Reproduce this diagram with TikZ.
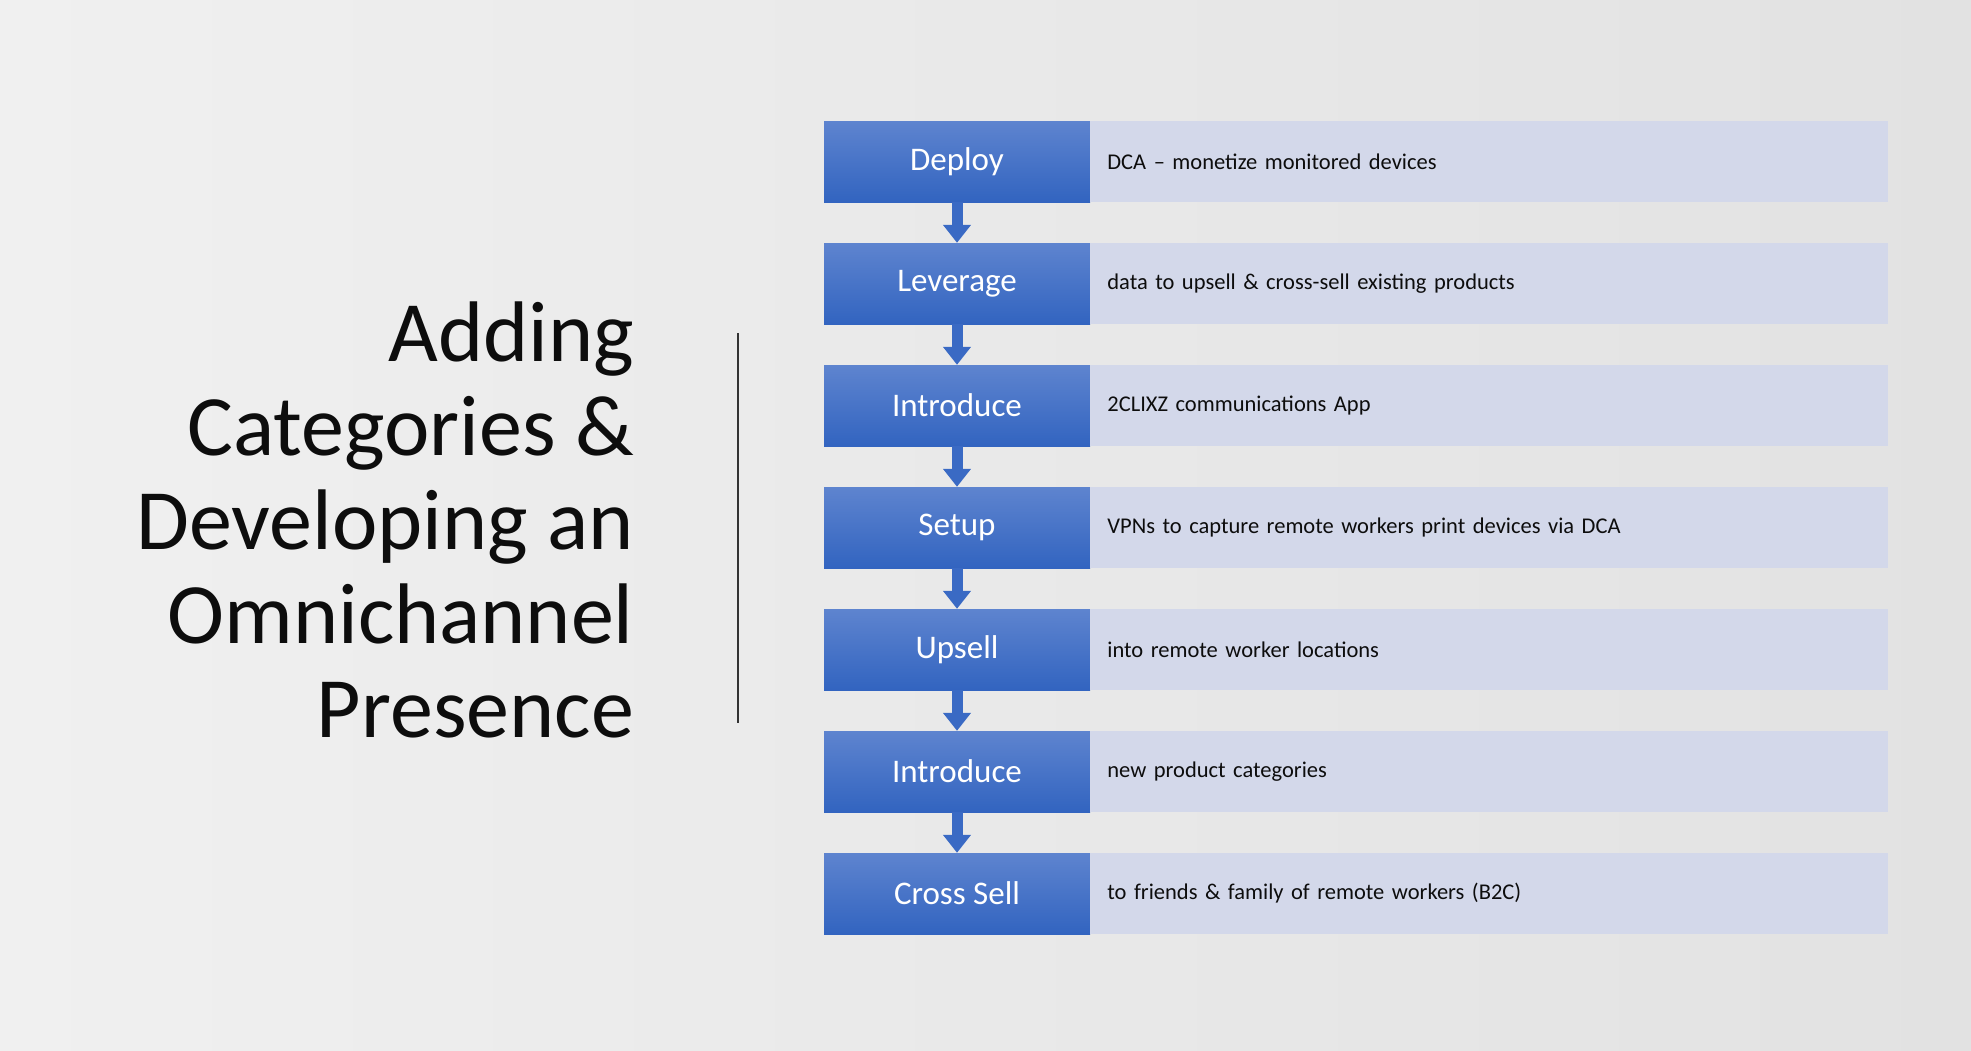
\documentclass[tikz,border=0pt]{standalone}
\usepackage{fontspec}
\setmainfont{Carlito}
\usepackage{xcolor}
\usetikzlibrary{arrows.meta}

\definecolor{bgLeft}{RGB}{240,240,240}
\definecolor{bgRight}{RGB}{226,226,226}
\definecolor{stepTop}{RGB}{94,132,207}
\definecolor{stepBottom}{RGB}{50,100,192}
\definecolor{flowBlue}{RGB}{58,106,196}
\definecolor{descFill}{RGB}{211,216,234}
\definecolor{inkDark}{RGB}{13,13,13}

\begin{document}
\begin{tikzpicture}[x=1pt, y=-1pt,
	stepbox/.style={rectangle, inner sep=0pt, minimum width=266pt, minimum height=81pt,
		top color=stepTop, bottom color=stepBottom, text=white,
		font=\fontsize{33}{40}\selectfont},
	descbox/.style={rectangle, fill=descFill, inner xsep=17pt, inner ysep=0pt,
		text width=764pt, minimum height=81pt, align=left, text=inkDark,
		font=\fontsize{22.5}{27}\selectfont},
	flow/.style={draw=flowBlue, line width=11pt, -{Triangle[width=27pt, length=18pt]}},
	heading/.style={inner sep=0pt, align=right, text=inkDark,
		font=\fontsize{86}{94}\selectfont},
	rule/.style={draw=black!80, line width=2pt}]
	\def\pitch{122};

	\shade [left color=bgLeft, right color=bgRight] (0,0) rectangle (1971,1050);
	\useasboundingbox (0,0) rectangle (1971,1050);

	\node [heading, anchor=north east] (title) at (634,302)
		{Adding\\Categories \&\\Developing an\\Omnichannel\\Presence};
	\draw [rule] (738,333) -- (738,723);

	\foreach \i/\word/\what in {
		1/Deploy/{DCA – monetize monitored devices},
		2/Leverage/{data to upsell \& cross-sell existing products},
		3/Introduce/{2CLIXZ communications App},
		4/Setup/{VPNs to capture remote workers print devices via DCA},
		5/Upsell/{into remote worker locations},
		6/Introduce/{new product categories},
		7/Cross Sell/{to friends \& family of remote workers (B2C)}} {
		\node [stepbox] (step\i) at (957, {161.5 + (\i-1)*\pitch}) {\word};
		\node [descbox, anchor=west] (desc\i) at (step\i.east) {\what};
	}

	\foreach \i [count=\j from 2] in {1,...,6}
		\draw [flow] (step\i.south) -- (step\j.north);
\end{tikzpicture}
\end{document}
